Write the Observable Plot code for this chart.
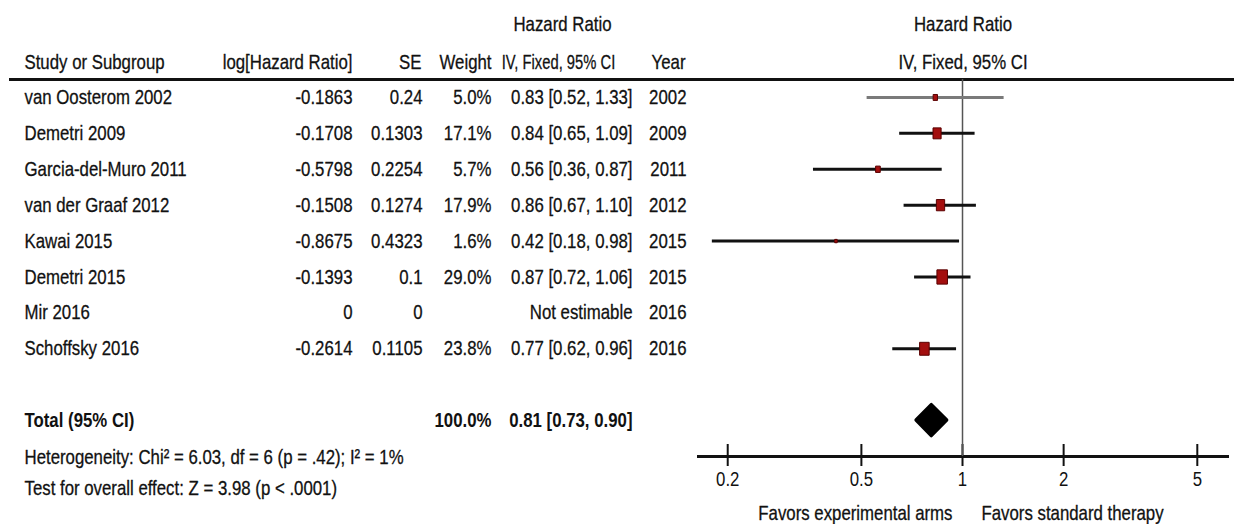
<!DOCTYPE html>
<html>
<head>
<meta charset="utf-8">
<script src="https://cdn.jsdelivr.net/npm/d3@7"></script>
<script src="https://cdn.jsdelivr.net/npm/@observablehq/plot@0.6"></script>
<style>
html, body { margin: 0; padding: 0; background: #fff; }
#chart { width: 1234px; height: 524px; }
</style>
</head>
<body>
<div id="chart"></div>
<script>
// ---- data ----
const studies = ["van Oosterom 2002", "Demetri 2009", "Garcia-del-Muro 2011", "van der Graaf 2012", "Kawai 2015", "Demetri 2015", "Mir 2016", "Schoffsky 2016"];
const logHR = [-0.1863, -0.1708, -0.5798, -0.1508, -0.8675, -0.1393, 0, -0.2614];
const se = [0.24, 0.1303, 0.2254, 0.1274, 0.4323, 0.1, 0, 0.1105];
const weight = [5.0, 17.1, 5.7, 17.9, 1.6, 29.0, null, 23.8];
const hr = [0.83, 0.84, 0.56, 0.86, 0.42, 0.87, null, 0.77];
const ciLow = [0.52, 0.65, 0.36, 0.67, 0.18, 0.72, null, 0.62];
const ciHigh = [1.33, 1.09, 0.87, 1.10, 0.98, 1.06, null, 0.96];
const years = [2002, 2009, 2011, 2012, 2015, 2015, 2016, 2016];
const totalLabel = "Total (95% CI)";
const totalWeight = 100.0;
const totalHR = 0.81, totalLow = 0.73, totalHigh = 0.90;
const heterogeneityText = "Heterogeneity: Chi² = 6.03, df = 6 (p = .42); I² = 1%";
const overallText = "Test for overall effect: Z = 3.98 (p < .0001)";
const axisTicks = [0.2, 0.5, 1, 2, 5];
const nullValue = 1;
const favorsLeft = "Favors experimental arms";
const favorsRight = "Favors standard therapy";
const headers1 = ["Study or Subgroup", "log[Hazard Ratio]", "SE", "Weight", "IV, Fixed, 95% CI", "Year"];
const headerTop = "Hazard Ratio";

// ---- build table ----
const rows = studies.map((s, i) => ({
  i, study: s, logHR: logHR[i], se: se[i], weight: weight[i],
  hr: hr[i], low: ciLow[i], high: ciHigh[i], year: years[i]
}));
const valid = rows.filter(d => d.hr != null);
const totalRow = {i: rows.length + 1, label: totalLabel, weight: totalWeight, hr: totalHR, low: totalLow, high: totalHigh};
const diamondHalf = 0.43;
const diamond = [
  {x: totalRow.low, y1: totalRow.i, y2: totalRow.i},
  {x: totalRow.hr, y1: totalRow.i - diamondHalf, y2: totalRow.i + diamondHalf},
  {x: totalRow.high, y1: totalRow.i, y2: totalRow.i}
];
const f2 = v => v.toFixed(2);
const ciText = d => d.hr == null ? "Not estimable" : `${f2(d.hr)} [${f2(d.low)}, ${f2(d.high)}]`;

// ---- layout ----
const W = 1234, H = 524;
const mL = 698, mR = 7, mT = 79, mB = 68;
const font = '"Liberation Sans", Arial, sans-serif';
const fs = 20.5;
const ink = "#111";
const T = {fontSize: fs, fill: ink, lineAnchor: "middle", stroke: ink, strokeWidth: 0.3};

function col(data, text, xAbs, anchor, extra = {}) {
  return Plot.text(data, {y: "i", text, frameAnchor: "left", dx: xAbs - mL, textAnchor: anchor, ...T, ...extra});
}
function head(t, xAbs, anchor, dy, extra = {}) {
  return Plot.text([t], {text: d => d, frameAnchor: "top-left", dx: xAbs - mL, dy, textAnchor: anchor, ...T, ...extra});
}

const rectSymbol = {
  draw(context, size) {
    const s = Math.sqrt(size);
    const w = s * 0.85, h = s * 1.15;
    context.rect(-w / 2, -h / 2, w, h);
  }
};

const chart = Plot.plot({
  width: W, height: H,
  marginLeft: mL, marginRight: mR, marginTop: mT, marginBottom: mB,
  style: {fontFamily: font, fontSize: fs + "px", color: ink, background: "#fff"},
  x: {type: "log", domain: [0.1637, 6.15], axis: null},
  y: {domain: [-0.5, 10], reverse: true, axis: null},
  r: {range: [0, 7]},
  marks: [
    Plot.frame({anchor: "top", insetLeft: -(mL - 10), insetRight: -mR, stroke: ink, strokeWidth: 3}),
    Plot.frame({anchor: "bottom", stroke: ink, strokeWidth: 3}),
    Plot.axisX({ticks: axisTicks, tickFormat: d => String(d), tickSize: 22, dy: -12, tickPadding: 5, strokeWidth: 2, fontSize: fs, color: ink}),
    Plot.ruleX([nullValue], {stroke: "#555", strokeWidth: 1.5}),
    Plot.ruleY(valid.filter(d => d.i === 0), {y: "i", x1: "low", x2: "high", stroke: "#7a7a7a", strokeWidth: 3}),
    Plot.ruleY(valid.filter(d => d.i !== 0), {y: "i", x1: "low", x2: "high", stroke: ink, strokeWidth: 3}),
    Plot.dot(valid, {x: "hr", y: "i", r: "weight", symbol: rectSymbol, fill: "#a30e0e", stroke: "#5a0000", strokeWidth: 1}),
    Plot.areaY(diamond, {x: "x", y1: "y1", y2: "y2", fill: "#000", stroke: "#000", strokeWidth: 3.5, strokeLinejoin: "round"}),
    // headers
    head(headerTop, 562, "middle", -55),
    head(headers1[0], 24, "start", -17),
    head(headers1[1], 352, "end", -17),
    head(headers1[2], 421, "end", -17),
    head(headers1[3], 491, "end", -17),
    head(headers1[4], 558, "middle", -17, {className: "tighter"}),
    head(headers1[5], 685, "end", -17),
    Plot.text([headerTop], {text: d => d, frameAnchor: "top", dy: -55, ...T}),
    Plot.text([headers1[4]], {text: d => d, frameAnchor: "top", dy: -17, ...T}),
    // study rows
    col(rows, "study", 24, "start"),
    col(rows, d => String(d.logHR), 352, "end"),
    col(rows, d => String(d.se), 422, "end"),
    col(rows, d => d.weight == null ? "" : d.weight.toFixed(1) + "%", 491, "end"),
    col(rows, ciText, 632, "end"),
    col(rows, d => String(d.year), 686, "end"),
    // total row
    col([totalRow], "label", 24, "start", {fontWeight: "bold", strokeWidth: 0}),
    col([totalRow], d => d.weight.toFixed(1) + "%", 491, "end", {fontWeight: "bold", strokeWidth: 0}),
    col([totalRow], ciText, 632, "end", {fontWeight: "bold", strokeWidth: 0}),
    // footnotes
    Plot.text([heterogeneityText], {text: d => d, frameAnchor: "bottom-left", dx: 24 - mL, dy: 1, textAnchor: "start", ...T}),
    Plot.text([overallText], {text: d => d, frameAnchor: "bottom-left", dx: 24 - mL, dy: 32, textAnchor: "start", ...T}),
    // favors labels
    Plot.text([{x: nullValue, t: favorsLeft}], {x: "x", text: "t", frameAnchor: "bottom", dy: 57, dx: -10, textAnchor: "end", ...T}),
    Plot.text([{x: nullValue, t: favorsRight}], {x: "x", text: "t", frameAnchor: "bottom", dy: 57, dx: 19, textAnchor: "start", ...T})
  ]
});
document.getElementById("chart").appendChild(chart);

// Narrow the glyphs (the reference uses a condensed face): scale each text
// horizontally about its own anchor point so alignment is preserved.
chart.querySelectorAll("text").forEach(el => {
  const k = el.closest(".tighter") ? 0.72 : 0.82;
  const x = parseFloat(el.getAttribute("x")) || 0;
  const t0 = el.getAttribute("transform") || "";
  el.setAttribute("transform", `${t0} translate(${x},0) scale(${k},1) translate(${-x},0)`.trim());
});
</script>
</body>
</html>
